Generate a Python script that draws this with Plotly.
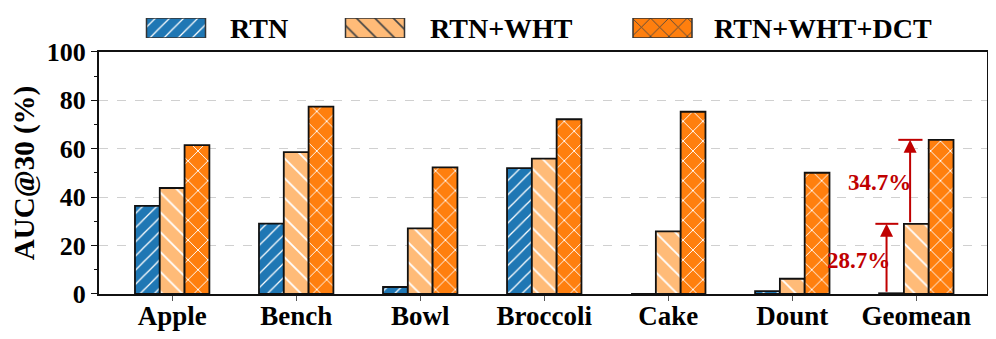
import plotly.graph_objects as go

categories = ["Apple", "Bench", "Bowl", "Broccoli", "Cake", "Dount", "Geomean"]
rtn = [36.4, 29.1, 2.9, 52.0, 0.0, 1.2, 0.3]
rtn_wht = [43.8, 58.6, 27.1, 55.9, 25.9, 6.3, 29.0]
rtn_wht_dct = [61.5, 77.4, 52.3, 72.2, 75.3, 50.1, 63.7]

series_names = ["RTN", "RTN+WHT", "RTN+WHT+DCT"]
series_colors = ["#1f77b4", "#ffbb78", "#ff7f0e"]
series_patterns = ["/", "\\", "x"]
pattern_sizes = [10, 14, 14]

gain_labels = ["28.7%", "34.7%"]

FONT = "Liberation Serif"
RED = "#c00000"

# the page body has an 8px margin, so the figure is 8px smaller on each side
W, H = 980, 323

fig = go.Figure()

for name, vals, col, pat, ps in zip(series_names, [rtn, rtn_wht, rtn_wht_dct],
                                    series_colors, series_patterns, pattern_sizes):
    fig.add_trace(go.Bar(
        x=categories, y=vals, name=name, showlegend=False,
        marker=dict(color=col, line=dict(color="#111111", width=1.8),
                    pattern=dict(shape=pat, fgcolor="white", fgopacity=1,
                                 size=ps, solidity=0.13)),
        xaxis="x", yaxis="y",
    ))

# hand-made legend with large hatched swatches (helper axis in reference pixel units)
legend_x = [176, 375, 662.5]
legend_text_x = [228, 428, 712]
fig.add_trace(go.Bar(
    x=legend_x, y=[1, 1, 1], width=59, showlegend=False, hoverinfo="skip",
    marker=dict(color=series_colors, line=dict(color="#333333", width=1.5),
                pattern=dict(shape=series_patterns, fgcolor="white", fgopacity=1,
                             size=[10, 13, 13], solidity=0.13)),
    xaxis="x2", yaxis="y2",
))
for tx, name in zip(legend_text_x, series_names):
    fig.add_annotation(x=tx, y=0.5, xref="x2", yref="y2", text=name, showarrow=False,
                       xanchor="left", yanchor="middle",
                       font=dict(family=FONT, size=28, color="black", weight="bold"))

# improvement arrows on the Geomean group
g = categories.index("Geomean")
arrows = [
    (g - 0.24, rtn[g], rtn_wht[g], g - 0.33, g - 0.145),
    (g - 0.05, rtn_wht[g], rtn_wht_dct[g], g - 0.145, g + 0.05),
]
label_pos = [(g - 0.47, 14), (g - 0.30, 45.9)]
for (ax_, y0, y1, c0, c1), lab, (lx, ly) in zip(arrows, gain_labels, label_pos):
    fig.add_annotation(x=ax_, y=y1, ax=ax_, ay=y0, xref="x", yref="y", axref="x", ayref="y",
                       text="", showarrow=True, arrowhead=2, arrowsize=1.3,
                       arrowwidth=2, arrowcolor=RED, standoff=0)
    fig.add_shape(type="line", x0=c0, x1=c1, y0=y1, y1=y1, xref="x", yref="y",
                  line=dict(color=RED, width=2))
    fig.add_annotation(x=lx, y=ly, xref="x", yref="y", text=lab, showarrow=False,
                       font=dict(family=FONT, size=23, color=RED, weight="bold"))

fig.update_layout(
    width=W, height=H,
    margin=dict(l=91, r=1, t=0, b=37, autoexpand=False),
    paper_bgcolor="white", plot_bgcolor="white",
    barmode="group", bargap=0.4, bargroupgap=0,
    font=dict(family=FONT),
    xaxis=dict(
        domain=[0, 1], range=[-0.59, 6.57], automargin=False,
        tickfont=dict(family=FONT, size=27, color="black", weight="bold"),
        ticklabelstandoff=-8,
        showline=True, linecolor="#111111", linewidth=2, mirror=True,
        ticks="outside", ticklen=5, tickcolor="#555555", showgrid=False,
    ),
    yaxis=dict(
        domain=[0, 0.8462], range=[0, 100], dtick=20, automargin=False,
        tickfont=dict(family=FONT, size=26, color="black", weight="bold"),
        title=dict(text="AUC@30 (%)", font=dict(family=FONT, size=29, color="black", weight="bold"),
                   standoff=8),
        showline=True, linecolor="#111111", linewidth=2, mirror=True,
        ticks="outside", ticklen=6, tickcolor="#111111",
        minor=dict(dtick=10, ticks="outside", ticklen=3, tickcolor="#111111", showgrid=False),
        showgrid=True, gridcolor="#d0d0d0", griddash="dash", gridwidth=1,
        zeroline=False,
    ),
    xaxis2=dict(domain=[0, 1], range=[99, 987], visible=False, anchor="y2"),
    yaxis2=dict(domain=[0.8951, 0.965], range=[0, 1], visible=False, anchor="x2"),
)

fig.write_html("out.html")
